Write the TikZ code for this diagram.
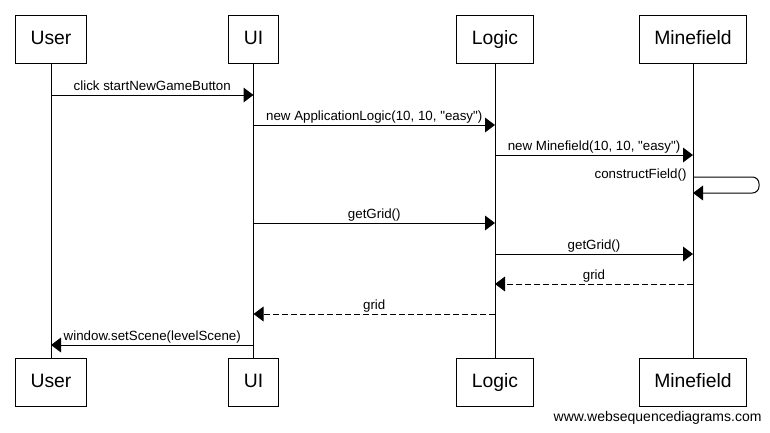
\documentclass[tikz,border=0pt]{standalone}
\usepackage{fontspec}
\setmainfont{Liberation Sans}
\usetikzlibrary{arrows.meta}

\begin{document}
\begin{tikzpicture}[x=0.75pt,y=-0.75pt,line width=0.75pt]
        \tikzstyle{actor}=[draw,rectangle,minimum height=36pt,inner xsep=11.25pt,text height=10.5pt,text depth=3pt,font=\fontsize{14.5}{17}\selectfont]
        \tikzstyle{msg}=[-{Triangle[length=7.5pt,width=11pt]}]
        \tikzstyle{reply}=[msg,dash pattern=on 4.5pt off 2.25pt]
        \tikzstyle{lbl}=[anchor=base,yshift=3.2pt,inner sep=0pt,font=\fontsize{10}{12}\selectfont]
        \useasboundingbox (0,0) rectangle (770,432);
        \node[actor] (userT) at (51,39) {User};
        \node[actor] (uiT) at (253.5,39) {UI};
        \node[actor] (logicT) at (495,39) {Logic};
        \node[actor] (mfT) at (693,39) {Minefield};
        \node[actor] (userB) at (51,382.5) {User};
        \node[actor] (uiB) at (253.5,382.5) {UI};
        \node[actor] (logicB) at (495,382.5) {Logic};
        \node[actor] (mfB) at (693,382.5) {Minefield};
        \draw (userT) -- (userB);
        \draw (uiT) -- (uiB);
        \draw (logicT) -- (logicB);
        \draw (mfT) -- (mfB);
        % message rows
        \coordinate (r1) at (0,95);
        \coordinate (r2) at (0,125);
        \coordinate (r3) at (0,155);
        \coordinate (s1) at (0,177);
        \coordinate (s2) at (0,193);
        \coordinate (r4) at (0,223);
        \coordinate (r5) at (0,254);
        \coordinate (r6) at (0,284);
        \coordinate (r7) at (0,314);
        \coordinate (r8) at (0,345);
        \draw[msg] (userT |- r1) -- node[lbl] {click startNewGameButton} (uiT |- r1);
        \draw[msg] (uiT |- r2) -- node[lbl] {new ApplicationLogic(10, 10, \textquotedbl easy\textquotedbl)} (logicT |- r2);
        \draw[msg] (logicT |- r3) -- node[lbl] {new Minefield(10, 10, \textquotedbl easy\textquotedbl)} (mfT |- r3);
        \draw[msg,rounded corners=5pt] (mfT |- s1) -- ++(66,0) -- ++(0,16) -- (mfT |- s2);
        \node[lbl,anchor=base east,yshift=0pt] (cf) at ([xshift=-4.5pt,yshift=-4.5pt]mfT |- s1) {constructField()};
        \draw[msg] (uiT |- r4) -- node[lbl] {getGrid()} (logicT |- r4);
        \draw[msg] (logicT |- r5) -- node[lbl] {getGrid()} (mfT |- r5);
        \draw[reply] (mfT |- r6) -- node[lbl] {grid} (logicT |- r6);
        \draw[reply] (logicT |- r7) -- node[lbl] {grid} (uiT |- r7);
        \draw[msg] (uiT |- r8) -- node[lbl] {window.setScene(levelScene)} (userT |- r8);
        \node[anchor=base east,inner sep=0pt,font=\fontsize{10.5}{12}\selectfont] (wsd) at (762,421) {www.websequencediagrams.com};
    \end{tikzpicture}
\end{document}
